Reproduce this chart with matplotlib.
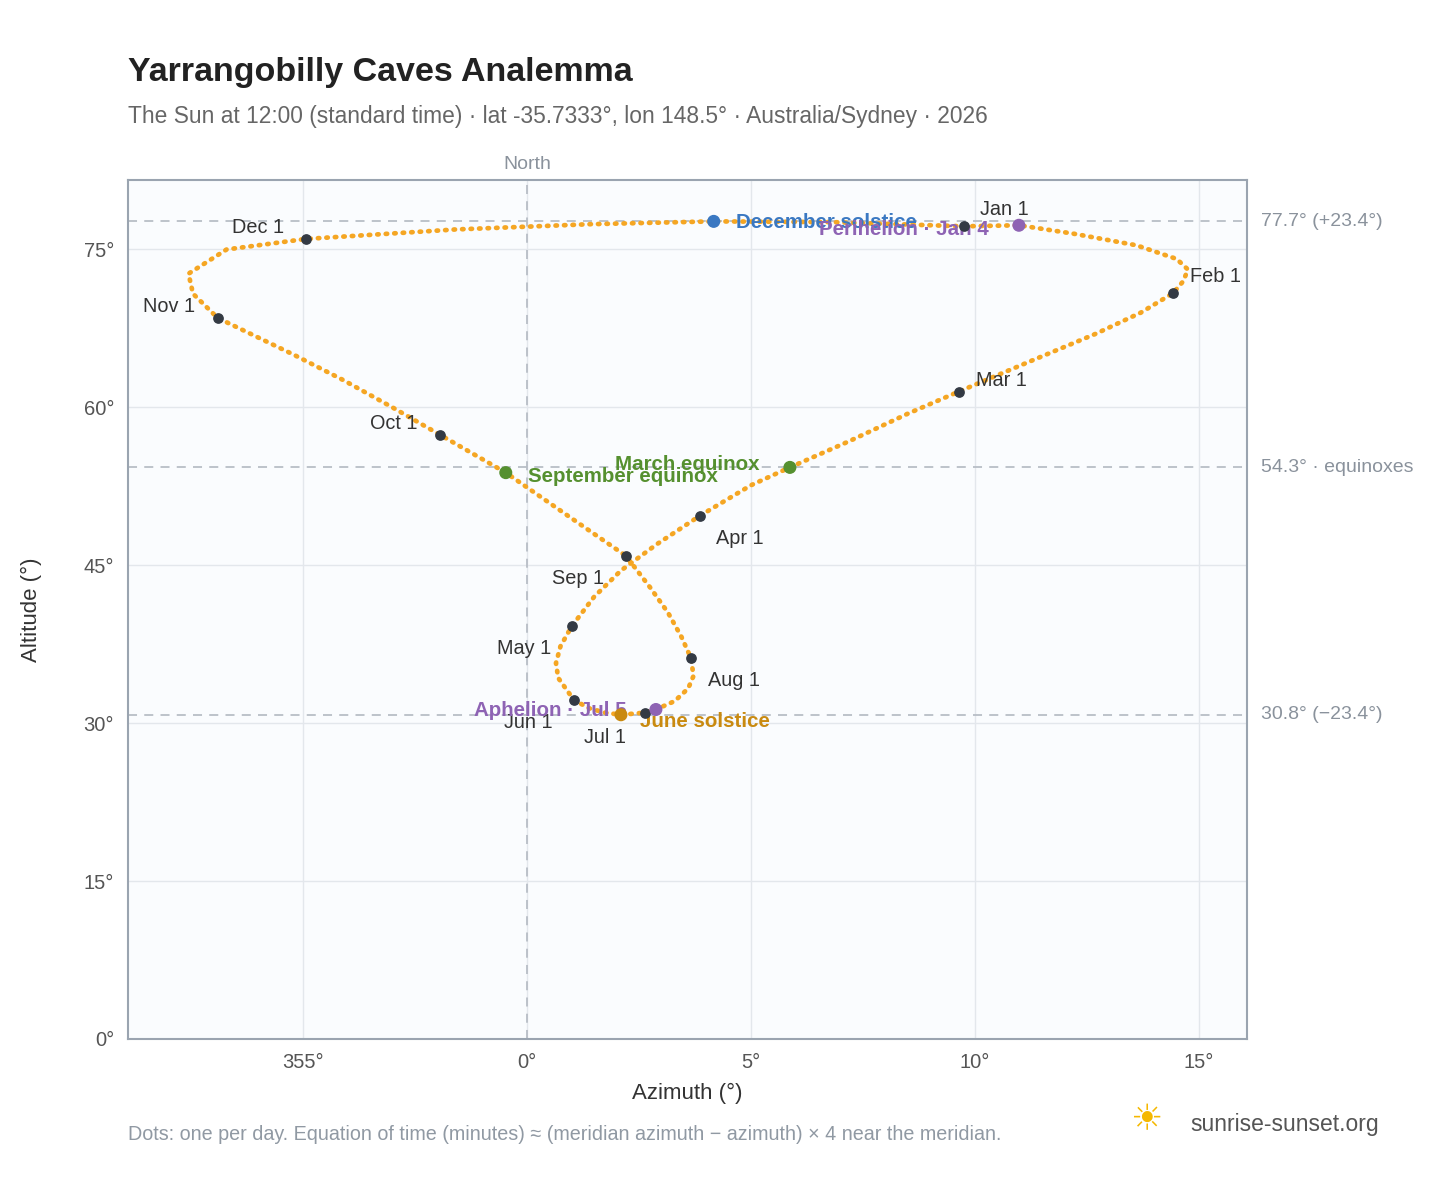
import matplotlib
matplotlib.use("Agg")
import matplotlib.pyplot as plt
plt.rcParams['font.family'] = ['Liberation Sans', 'DejaVu Sans']

# path samples, in date order
path_az = [9.75,10.98,12.2,13.6,14.5,14.75,14.65,14.42,13.7,12.7,11.3,9.64,8.5,7.2,5.87,5.0,3.86,2.9,2.1,1.5,1.0,0.75,0.65,0.7,1.05,1.4,1.75,2.1,2.63,2.88,3.3,3.6,3.72,3.66,3.45,3.15,2.75,2.21,1.29,0.41,-0.47,-1.94,-3.0,-4.1,-5.2,-6.9,-7.45,-7.55,-6.7,-4.93,-1.6,1.4,4.17,6.8,9.75]
path_alt = [77.2,77.3,76.5,75.4,74.1,73.1,72.0,70.85,69.0,67.0,64.5,61.5,59.4,56.8,54.3,52.6,49.7,47.0,44.5,42.0,39.2,37.3,35.7,34.3,32.2,31.4,31.0,30.8,31.0,31.3,32.1,33.3,34.5,36.2,38.2,40.5,42.9,45.9,48.6,51.2,53.8,57.4,60.0,62.6,65.0,68.5,70.8,72.7,75.0,76.0,76.9,77.4,77.67,77.6,77.2]

months = ["Jan 1","Feb 1","Mar 1","Apr 1","May 1","Jun 1","Jul 1","Aug 1","Sep 1","Oct 1","Nov 1","Dec 1"]
month_az = [9.75,14.42,9.64,3.86,1.0,1.05,2.63,3.66,2.21,-1.94,-6.9,-4.93]
month_alt = [77.2,70.85,61.5,49.7,39.2,32.2,31.0,36.2,45.9,57.4,68.5,76.0]
month_off = [(12,8),(12,8),(12,4),(12,-20),(-54,-20),(-50,-20),(-44,-22),(12,-20),(-53,-20),(-50,4),(-54,4),(-53,4)]

events = ["December solstice","Perihelion · Jan 4","March equinox","September equinox","June solstice","Aphelion · Jul 5"]
ev_az = [4.17,10.98,5.87,-0.47,2.1,2.88]
ev_alt = [77.67,77.3,54.3,53.8,30.8,31.3]
ev_col = ["#3a78c2","#8e63b4","#55902f","#55902f","#c98a10","#8e63b4"]
ev_off = [(16,-5),(-144,-7),(-126,-2),(16,-7),(14,-9),(-131,-5)]

ref_alt = [77.7,54.3,30.8]
ref_lab = ["77.7° (+23.4°)","54.3° · equinoxes","30.8° (−23.4°)"]

fig = plt.figure(figsize=(14.48,11.88), dpi=100)
ax = fig.add_axes([128/1448, 1-1039/1188, 1119/1448, 859/1188])
ax.set_facecolor("#fafcfe")
ax.set_xlim(-8.9,16.07); ax.set_ylim(0,81.6)
ax.set_xticks([-5,0,5,10,15]); ax.set_xticklabels(["355°","0°","5°","10°","15°"])
ax.set_yticks([0,15,30,45,60,75]); ax.set_yticklabels([f"{v}°" for v in [0,15,30,45,60,75]])
ax.grid(color="#e3e7ec", lw=1); ax.set_axisbelow(True)
for s in ax.spines.values(): s.set_color("#9aa4b0"); s.set_linewidth(1.5)
ax.tick_params(length=0, labelsize=14.5, colors="#555", pad=10)
ax.set_xlabel("Azimuth (°)", fontsize=16, color="#333", labelpad=8)
ax.set_ylabel("Altitude (°)", fontsize=16, color="#333", labelpad=30)

for y, l in zip(ref_alt, ref_lab):
    ax.axhline(y, color="#b8bec6", ls=(0,(5,4)), lw=1.3)
    ax.annotate(l, (1, y), xycoords=("axes fraction","data"), xytext=(10,0), textcoords="offset points", va="center", fontsize=14, color="#8a929c")
ax.axvline(0, color="#b8bec6", ls=(0,(5,4)), lw=1.3)
ax.annotate("North", (0,1), xycoords=("data","axes fraction"), xytext=(0,8), textcoords="offset points", ha="center", fontsize=14, color="#8a929c")

ax.plot(path_az, path_alt, color="#f5a623", lw=3.4, ls=(0,(0.3,1.5)), dash_capstyle="round", zorder=3)
ax.scatter(month_az, month_alt, s=45, color="#333a44", zorder=5)
for m, x, y, o in zip(months, month_az, month_alt, month_off):
    ax.annotate(m, (x,y), xytext=o, textcoords="offset points", fontsize=14.3, color="#333")
ax.scatter(ev_az, ev_alt, s=70, c=ev_col, zorder=6)
for e, x, y, c, o in zip(events, ev_az, ev_alt, ev_col, ev_off):
    ax.annotate(e, (x,y), xytext=o, textcoords="offset points", fontsize=14.8, color=c, fontweight="bold")

fig.text(128/1448, 1-73/1188, "Yarrangobilly Caves Analemma", fontsize=24.5, fontweight="bold", color="#222", va="center")
fig.text(128/1448, 1-116/1188, "The Sun at 12:00 (standard time) · lat -35.7333°, lon 148.5° · Australia/Sydney · 2026", fontsize=16.4, color="#666", va="center")
fig.text(128/1448, 1-1134/1188, "Dots: one per day. Equation of time (minutes) ≈ (meridian azimuth − azimuth) × 4 near the meridian.", fontsize=14.2, color="#9099a3", va="center")
fig.text(1190/1448, 1-1125/1188, "sunrise-sunset.org", fontsize=16.5, color="#555", va="center")
fig.text(1146/1448, 1-1120/1188, "☀", fontsize=26, color="#f5b800", va="center", ha="center", family="DejaVu Sans")
fig.savefig("out.png", dpi=100)
